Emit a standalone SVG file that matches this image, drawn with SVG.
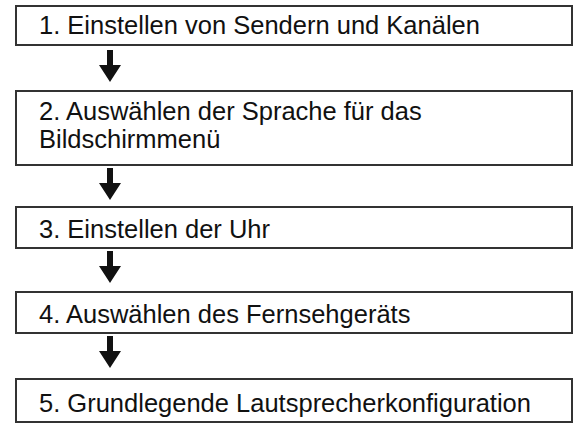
<svg xmlns="http://www.w3.org/2000/svg" width="576" height="429" viewBox="0 0 576 429">
<defs>
<style>
.box{fill:#fff;stroke:#333;stroke-width:2}
.t{font-family:"Liberation Sans",Arial,sans-serif;font-size:25.5px;fill:#111}
.arr{fill:#111}
</style>
<path id="arrow" class="arr" d="M-3,0 H3 V15 H11 L0,32 L-11,15 H-3 Z"/>
</defs>
<rect width="576" height="429" fill="#fff"/>
<g id="n1"><rect class="box" x="16" y="6" width="556" height="39"/><text class="t" x="39" y="34">1. Einstellen von Sendern und Kanälen</text></g>
<g id="n2"><rect class="box" x="16" y="91" width="556" height="74"/><text class="t" x="39" y="120">2. Auswählen der Sprache für das</text><text class="t" x="39" y="148">Bildschirmmenü</text></g>
<g id="n3"><rect class="box" x="16" y="207" width="556" height="41"/><text class="t" x="39" y="238">3. Einstellen der Uhr</text></g>
<g id="n4"><rect class="box" x="16" y="292" width="556" height="41"/><text class="t" x="39" y="323">4. Auswählen des Fernsehgeräts</text></g>
<g id="n5"><rect class="box" x="16" y="379" width="556" height="43"/><text class="t" x="39" y="412">5. Grundlegende Lautsprecherkonfiguration</text></g>
<g id="connectors">
<use href="#arrow" x="110" y="50"/>
<use href="#arrow" x="110" y="168"/>
<use href="#arrow" x="110" y="251"/>
<use href="#arrow" x="110" y="336"/>
</g>
</svg>
